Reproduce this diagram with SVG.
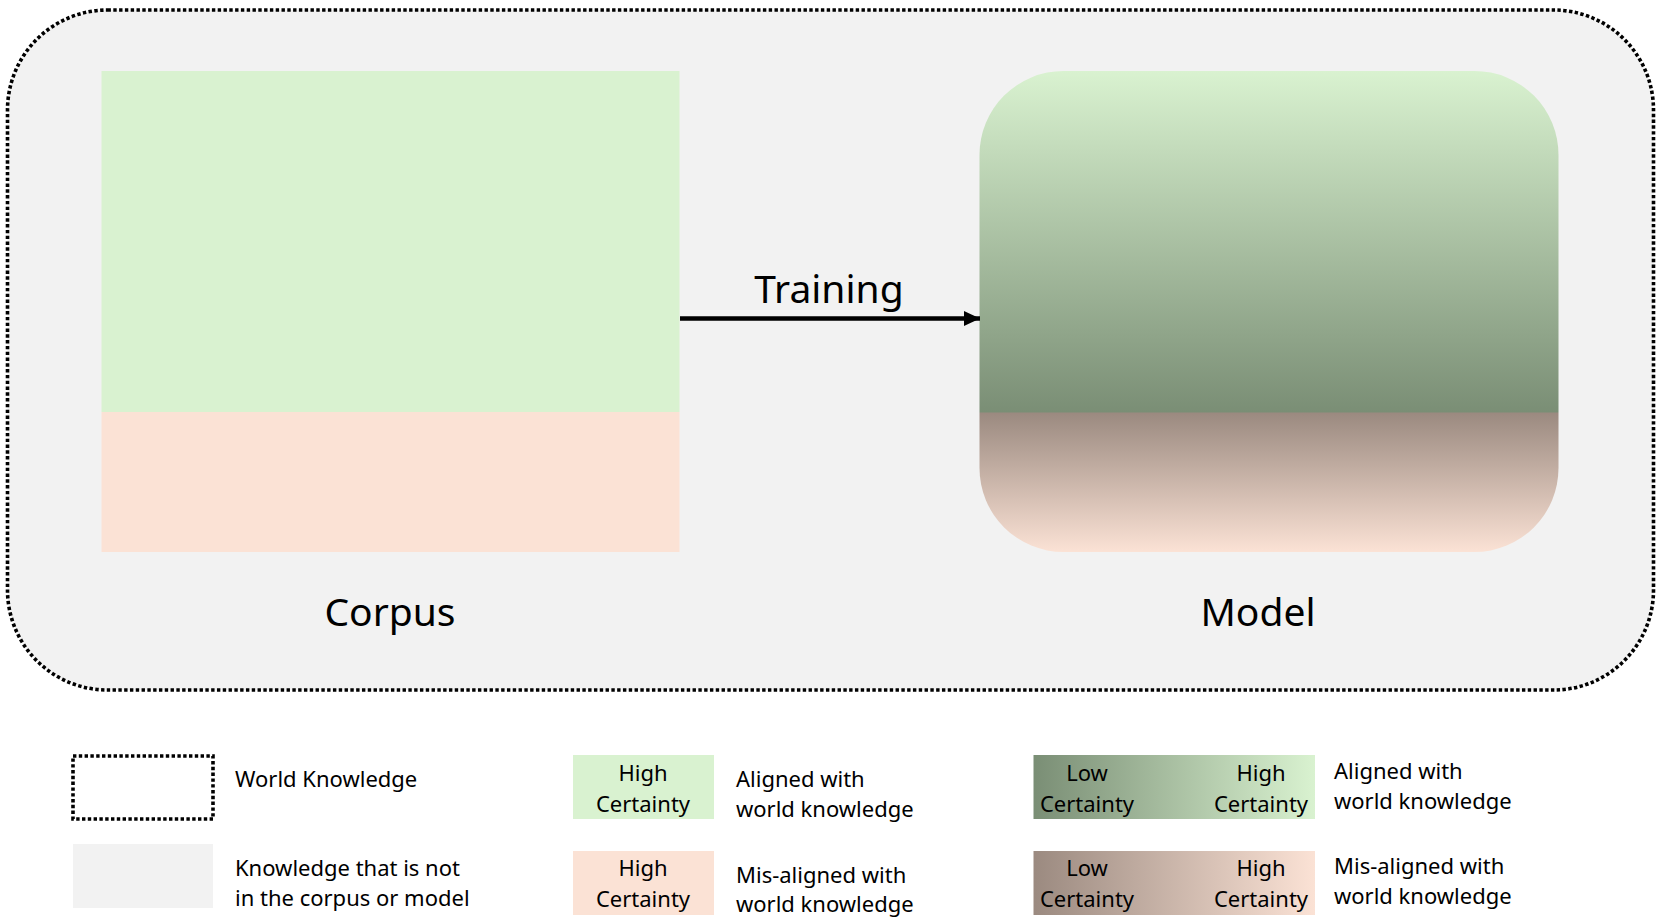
<svg xmlns="http://www.w3.org/2000/svg" width="1660" height="923" viewBox="0 0 1660 923">
<defs>
<style>
text{font-family:"Noto Sans","Open Sans","Liberation Sans",sans-serif;fill:#000}
.big{font-size:39px}
.lg{font-size:22px}
.dot{stroke:#000;stroke-width:3.6;stroke-dasharray:3.4 2.4}
</style>
<linearGradient id="modelGrad" x1="0" y1="0" x2="0" y2="1">
<stop offset="0" stop-color="#d9f2d0"/>
<stop offset="0.709" stop-color="#7a8e75"/>
<stop offset="0.711" stop-color="#9b8a80"/>
<stop offset="1" stop-color="#fbe2d5"/>
</linearGradient>
<linearGradient id="greenGrad" x1="0" y1="0" x2="1" y2="0">
<stop offset="0" stop-color="#7a8e75"/>
<stop offset="1" stop-color="#d9f2d0"/>
</linearGradient>
<linearGradient id="brownGrad" x1="0" y1="0" x2="1" y2="0">
<stop offset="0" stop-color="#9b8a80"/>
<stop offset="1" stop-color="#fbe2d5"/>
</linearGradient>
<marker id="arr" markerWidth="16" markerHeight="15" refX="16" refY="7.5" orient="auto" markerUnits="userSpaceOnUse" viewBox="0 0 16 15">
<path d="M0,0 L16,7.5 L0,15 z" fill="#000"/>
</marker>
</defs>
<rect width="1660" height="923" fill="#fff"/>
<g id="world">
<rect x="7.5" y="10" width="1646" height="680" rx="100" ry="100" fill="#f2f2f2" class="dot"/>
</g>
<g id="corpus">
<rect x="101.5" y="71" width="578" height="341" fill="#d9f2d0"/>
<rect x="101.5" y="412" width="578" height="140" fill="#fbe2d5"/>
<text class="big" x="390" y="626" text-anchor="middle">Corpus</text>
</g>
<g id="model">
<rect x="979.5" y="71" width="579" height="481" rx="84" ry="84" fill="url(#modelGrad)"/>
<text class="big" x="1258" y="626" text-anchor="middle">Model</text>
</g>
<g id="connectors">
<line x1="680" y1="318.5" x2="980" y2="318.5" stroke="#000" stroke-width="4.5" marker-end="url(#arr)"/>
<text class="big" x="829" y="303" text-anchor="middle">Training</text>
</g>
<g id="legend">
<rect x="73" y="756" width="140" height="63" fill="none" class="dot"/>
<text class="lg" x="235" y="787">World Knowledge</text>
<rect x="73" y="844" width="140" height="64" fill="#f2f2f2"/>
<text class="lg" x="235" y="876">Knowledge that is not</text>
<text class="lg" x="235" y="906">in the corpus or model</text>
<rect x="573" y="755" width="141" height="64" fill="#d9f2d0"/>
<text class="lg" x="643" y="781" text-anchor="middle">High</text>
<text class="lg" x="643" y="812" text-anchor="middle">Certainty</text>
<text class="lg" x="736" y="787">Aligned with</text>
<text class="lg" x="736" y="817">world knowledge</text>
<rect x="573" y="851" width="141" height="64" fill="#fbe2d5"/>
<text class="lg" x="643" y="876" text-anchor="middle">High</text>
<text class="lg" x="643" y="907" text-anchor="middle">Certainty</text>
<text class="lg" x="736" y="883">Mis-aligned with</text>
<text class="lg" x="736" y="912">world knowledge</text>
<rect x="1033.5" y="755" width="281.5" height="64" fill="url(#greenGrad)"/>
<text class="lg" x="1087" y="781" text-anchor="middle">Low</text>
<text class="lg" x="1087" y="812" text-anchor="middle">Certainty</text>
<text class="lg" x="1261" y="781" text-anchor="middle">High</text>
<text class="lg" x="1261" y="812" text-anchor="middle">Certainty</text>
<text class="lg" x="1334" y="779">Aligned with</text>
<text class="lg" x="1334" y="809">world knowledge</text>
<rect x="1033.5" y="851" width="281.5" height="64" fill="url(#brownGrad)"/>
<text class="lg" x="1087" y="876" text-anchor="middle">Low</text>
<text class="lg" x="1087" y="907" text-anchor="middle">Certainty</text>
<text class="lg" x="1261" y="876" text-anchor="middle">High</text>
<text class="lg" x="1261" y="907" text-anchor="middle">Certainty</text>
<text class="lg" x="1334" y="874">Mis-aligned with</text>
<text class="lg" x="1334" y="904">world knowledge</text>
</g>
</svg>
